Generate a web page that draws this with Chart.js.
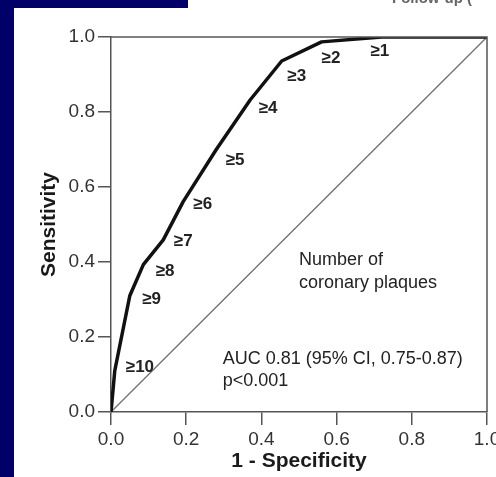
<!DOCTYPE html>
<html>
<head>
<meta charset="utf-8">
<script src="https://cdn.jsdelivr.net/npm/chart.js@4/dist/chart.umd.min.js"></script>
<style>
  html, body { margin: 0; padding: 0; background: #ffffff; }
  #wrap { width: 496px; height: 477px; position: relative; }
</style>
</head>
<body>
<div id="wrap"><canvas id="c" width="496" height="477"></canvas></div>
<script>
// ROC curve: number of coronary plaques thresholds
const thresholds = ["", "≥10", "≥9", "≥8", "≥7", "≥6", "≥5", "≥4", "≥3", "≥2", "≥1", ""];
const falsePositiveRate = [0, 0.01, 0.05, 0.086, 0.139, 0.192, 0.28, 0.37, 0.454, 0.56, 0.72, 1.0];
const sensitivity       = [0, 0.11, 0.31, 0.393, 0.459, 0.561, 0.70, 0.832, 0.936, 0.987, 1.0, 1.0];
// where each threshold label sits (data units)
const labelX = [null, 0.077, 0.108, 0.144, 0.192, 0.244, 0.330, 0.418, 0.494, 0.585, 0.715, null];
const labelY = [null, 0.118, 0.300, 0.375, 0.455, 0.553, 0.672, 0.810, 0.894, 0.944, 0.961, null];
const refLine = [{x: 0, y: 0}, {x: 1, y: 1}];
const tickValues = [0, 0.2, 0.4, 0.6, 0.8, 1.0];
const legendLines = ["Number of", "coronary plaques"];
const statLines = ["AUC 0.81 (95% CI, 0.75-0.87)", "p<0.001"];

const FONT = "'Liberation Sans', Arial, Helvetica, sans-serif";

const rocPoints = falsePositiveRate.map((x, i) => ({x, y: sensitivity[i]}));

const decor = {
  id: 'decor',
  beforeDraw(chart) {
    const ctx = chart.ctx;
    ctx.save();
    ctx.fillStyle = '#ffffff';
    ctx.fillRect(0, 0, chart.width, chart.height);
    ctx.fillStyle = '#000068';
    ctx.fillRect(0, 0, 188, 8);
    ctx.fillRect(0, 0, 14, chart.height);
    // clipped heading fragment at top right
    ctx.fillStyle = '#666';
    ctx.font = "bold 15px " + FONT;
    ctx.textAlign = 'left';
    ctx.textBaseline = 'alphabetic';
    ctx.fillText('Follow-up (', 392, 3);
    ctx.restore();
  },
  afterDatasetsDraw(chart) {
    const ctx = chart.ctx;
    const xs = chart.scales.x, ys = chart.scales.y;
    const a = chart.chartArea;
    ctx.save();
    // top and right frame
    ctx.strokeStyle = '#555';
    ctx.lineWidth = 1.5;
    ctx.beginPath();
    ctx.moveTo(a.left, a.top);
    ctx.lineTo(a.right, a.top);
    ctx.lineTo(a.right, a.bottom);
    ctx.stroke();
    // threshold labels
    ctx.fillStyle = '#222';
    ctx.font = "bold 17px " + FONT;
    ctx.textAlign = 'center';
    ctx.textBaseline = 'middle';
    thresholds.forEach((t, i) => {
      if (!t) return;
      ctx.fillText(t, xs.getPixelForValue(labelX[i]), ys.getPixelForValue(labelY[i]));
    });
    // legend text
    ctx.font = "18px " + FONT;
    ctx.textAlign = 'left';
    ctx.fillText(legendLines[0], xs.getPixelForValue(0.5), ys.getPixelForValue(0.404));
    ctx.fillText(legendLines[1], xs.getPixelForValue(0.5), ys.getPixelForValue(0.345));
    ctx.fillText(statLines[0], xs.getPixelForValue(0.297), ys.getPixelForValue(0.14));
    ctx.fillText(statLines[1], xs.getPixelForValue(0.297), ys.getPixelForValue(0.082));
    ctx.restore();
  }
};

new Chart(document.getElementById('c'), {
  type: 'scatter',
  data: {
    datasets: [
      {
        data: refLine,
        showLine: true,
        borderColor: '#707070',
        borderWidth: 1.3,
        pointRadius: 0,
        order: 2
      },
      {
        data: rocPoints,
        showLine: true,
        borderColor: '#111',
        borderWidth: 3.5,
        borderJoinStyle: 'round',
        pointRadius: 0,
        tension: 0,
        order: 1
      }
    ]
  },
  options: {
    responsive: false,
    animation: false,
    devicePixelRatio: 1,
    layout: { padding: { left: 0, right: 9, top: 37, bottom: 0 } },
    plugins: { legend: { display: false }, tooltip: { enabled: false } },
    scales: {
      x: {
        type: 'linear',
        min: 0, max: 1,
        afterBuildTicks(s) { s.ticks = tickValues.map(v => ({value: v})); },
        afterFit(s) { s.height = 65; s.paddingLeft = 0; s.paddingRight = 0; },
        grid: { drawOnChartArea: false, drawTicks: true, tickLength: 13, color: '#555', lineWidth: 1.5 },
        border: { display: true, color: '#555', width: 1.5 },
        ticks: {
          padding: 3,
          color: '#333',
          font: { family: FONT, size: 19 },
          maxRotation: 0,
          callback: v => v.toFixed(1)
        },
        title: {
          display: true,
          text: '1 - Specificity',
          color: '#1a1a1a',
          font: { family: FONT, size: 21, weight: 'bold', lineHeight: 1 },
          padding: { top: 0, bottom: 5 }
        }
      },
      y: {
        type: 'linear',
        min: 0, max: 1,
        afterBuildTicks(s) { s.ticks = tickValues.map(v => ({value: v})); },
        afterFit(s) { s.width = 111; s.paddingTop = 0; s.paddingBottom = 0; },
        grid: { drawOnChartArea: false, drawTicks: true, tickLength: 13, color: '#555', lineWidth: 1.5 },
        border: { display: true, color: '#555', width: 1.5 },
        ticks: {
          padding: 3,
          color: '#333',
          font: { family: FONT, size: 19 },
          callback: v => v.toFixed(1)
        },
        title: {
          display: true,
          text: 'Sensitivity',
          color: '#1a1a1a',
          font: { family: FONT, size: 21, weight: 'bold', lineHeight: 1 },
          padding: { top: 39, bottom: 0 }
        }
      }
    }
  },
  plugins: [decor]
});
</script>
</body>
</html>
